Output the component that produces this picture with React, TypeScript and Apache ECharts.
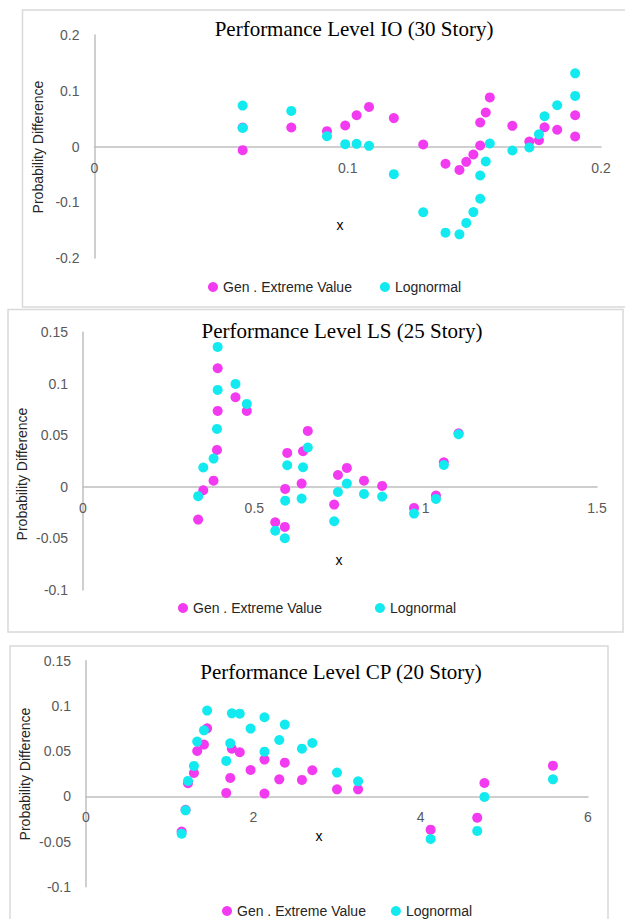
import React, { useEffect, useRef } from "react";
import * as echarts from "echarts";

const GEV_NAME = "Gen . Extreme Value";
const LN_NAME = "Lognormal";

const titleIO = "Performance Level IO (30 Story)";
const titleLS = "Performance Level LS (25 Story)";
const titleCP = "Performance Level CP (20 Story)";
const yAxisTitle = "Probability Difference";
const xAxisTitle = "x";

// Panel 1: IO (30 story)
const xIO = [0.0585, 0.0585, 0.0777, 0.0918, 0.099, 0.1035, 0.1084, 0.1182, 0.1298, 0.1386, 0.1441, 0.1468, 0.1496, 0.1523, 0.1523, 0.1545, 0.1561, 0.165, 0.1717, 0.1755, 0.1777, 0.1827, 0.1898, 0.1898];
const gevIO = [-0.0066, 0.034, 0.034, 0.0275, 0.0376, 0.056, 0.071, 0.051, 0.0036, -0.031, -0.042, -0.0275, -0.0143, 0.0018, 0.043, 0.061, 0.088, 0.037, 0.009, 0.0113, 0.0346, 0.03, 0.018, 0.056];
const lnIO = [0.0334, 0.0734, 0.0639, 0.0185, 0.0042, 0.0048, 0.0012, -0.0496, -0.118, -0.1546, -0.1576, -0.137, -0.1176, -0.0937, -0.052, -0.0269, 0.0054, -0.0072, -0.0018, 0.022, 0.0543, 0.074, 0.0907, 0.1313];
const xTicksIO = [0, 0.1, 0.2];
const yTicksIO = [-0.2, -0.1, 0, 0.1, 0.2];

// Panel 2: LS (25 story)
const xLS = [0.336, 0.351, 0.381, 0.391, 0.393, 0.393, 0.445, 0.478, 0.561, 0.589, 0.59, 0.596, 0.638, 0.642, 0.656, 0.733, 0.744, 0.77, 0.82, 0.873, 0.966, 1.03, 1.053, 1.096];
const gevLS = [-0.0317, -0.0032, 0.0061, 0.0359, 0.0737, 0.1151, 0.087, 0.0737, -0.0343, -0.0388, -0.0019, 0.033, 0.0032, 0.0346, 0.0543, -0.0171, 0.0116, 0.0184, 0.0061, 0.001, -0.0204, -0.0084, 0.0239, 0.052];
const lnLS = [-0.009, 0.0188, 0.0275, 0.0563, 0.0941, 0.1358, 0.0999, 0.0805, -0.0424, -0.0498, -0.0133, 0.021, -0.0113, 0.0191, 0.0382, -0.0333, -0.0049, 0.0032, -0.0068, -0.0094, -0.0259, -0.0116, 0.0213, 0.0511];
const xTicksLS = [0, 0.5, 1, 1.5];
const yTicksLS = [-0.1, -0.05, 0, 0.05, 0.1, 0.15];

// Panel 3: CP (20 story)
const xCP = [1.143, 1.19, 1.219, 1.29, 1.329, 1.41, 1.448, 1.676, 1.724, 1.743, 1.838, 1.967, 2.133, 2.133, 2.31, 2.376, 2.581, 2.705, 3.0, 3.252, 4.119, 4.676, 4.762, 5.581];
const gevCP = [-0.039, -0.015, 0.0144, 0.0258, 0.0501, 0.0572, 0.0752, 0.0037, 0.0203, 0.0527, 0.0487, 0.0291, 0.003, 0.0406, 0.0188, 0.0372, 0.0181, 0.0288, 0.0077, 0.0077, -0.0369, -0.0236, 0.0147, 0.0339];
const lnCP = [-0.0413, -0.0155, 0.017, 0.0336, 0.0605, 0.073, 0.0948, 0.0391, 0.0586, 0.0918, 0.0914, 0.0749, 0.0494, 0.0874, 0.0623, 0.0793, 0.0527, 0.059, 0.0262, 0.0166, -0.0472, -0.0383, -0.0007, 0.0188];
const xTicksCP = [0, 2, 4, 6];
const yTicksCP = [-0.1, -0.05, 0, 0.05, 0.1, 0.15];

const GEV_COLOR = "#f23af0";
const LN_COLOR = "#12eaf0";
const AXIS_COLOR = "#bfbfbf";
const TICK_COLOR = "#595959";
const SANS = "Liberation Sans";
const SERIF = "Liberation Serif";

const fmt = (v: number) => String(Number(v.toFixed(3)));

const panels = [
  {
    title: titleIO, x: xIO, gev: gevIO, ln: lnIO, xTicks: xTicksIO, yTicks: yTicksIO, xStep: 0.1, yStep: 0.1,
    grid: { left: 94.5, top: 35, width: 506.5, height: 223 },
    frame: { x: 22.5, y: 10, width: 620, height: 297 },
    titlePos: [354, 29], yNamePos: [38, 147], xNamePos: [340, 225],
    legend: { left: 208, top: 280, itemGap: 28 },
  },
  {
    title: titleLS, x: xLS, gev: gevLS, ln: lnLS, xTicks: xTicksLS, yTicks: yTicksLS, xStep: 0.5, yStep: 0.05,
    grid: { left: 83, top: 332.3, width: 514, height: 257.7 },
    frame: { x: 8, y: 309.5, width: 615, height: 322.5 },
    titlePos: [342, 331], yNamePos: [22, 474], xNamePos: [339, 560],
    legend: { left: 178, top: 601, itemGap: 53 },
  },
  {
    title: titleCP, x: xCP, gev: gevCP, ln: lnCP, xTicks: xTicksCP, yTicks: yTicksCP, xStep: 2, yStep: 0.05,
    grid: { left: 86, top: 660.7, width: 502, height: 226 },
    frame: { x: 10, y: 646, width: 598, height: 300 },
    titlePos: [341, 672], yNamePos: [25, 774], xNamePos: [319, 836],
    legend: { left: 222, top: 904, itemGap: 25 },
  },
];

export default function App() {
  const ref = useRef<HTMLDivElement>(null);

  useEffect(() => {
    if (!ref.current) return;
    const chart = echarts.init(ref.current, undefined, { renderer: "svg" });

    const graphic: any[] = [];
    panels.forEach((p) => {
      graphic.push({
        type: "rect",
        shape: { x: p.frame.x, y: p.frame.y, width: p.frame.width, height: p.frame.height },
        style: { fill: "none", stroke: "#d9d9d9", lineWidth: 1.5 },
        z: -1,
      });
      graphic.push({
        type: "text",
        x: p.titlePos[0],
        y: p.titlePos[1],
        style: { text: p.title, fill: "#000", fontSize: 21, fontFamily: SERIF, align: "center", verticalAlign: "middle" },
      });
      graphic.push({
        type: "text",
        x: p.yNamePos[0],
        y: p.yNamePos[1],
        rotation: Math.PI / 2,
        style: { text: yAxisTitle, fill: "#262626", fontSize: 14, fontFamily: SANS, align: "center", verticalAlign: "middle" },
      });
      graphic.push({
        type: "text",
        x: p.xNamePos[0],
        y: p.xNamePos[1],
        style: { text: xAxisTitle, fill: "#000", fontSize: 14, fontFamily: SANS, align: "center", verticalAlign: "middle" },
      });
    });

    const option: any = {
      animation: false,
      backgroundColor: "#ffffff",
      grid: panels.map((p) => ({ ...p.grid, containLabel: false })),
      xAxis: panels.map((p, i) => {
        const yMin = p.yTicks[0];
        const yMax = p.yTicks[p.yTicks.length - 1];
        // move the x axis (line + labels) up from the bottom edge to y = 0
        const zeroOffset = -p.grid.height * (0 - yMin) / (yMax - yMin);
        return {
          type: "value",
          gridIndex: i,
          position: "bottom",
          offset: zeroOffset,
          min: p.xTicks[0],
          max: p.xTicks[p.xTicks.length - 1],
          interval: p.xStep,
          axisLine: { show: true, onZero: false, lineStyle: { color: AXIS_COLOR, width: 1.5 } },
          axisTick: { show: false },
          splitLine: { show: false },
          axisLabel: {
            margin: 14, color: TICK_COLOR, fontSize: 14, fontFamily: SANS,
            showMinLabel: true, showMaxLabel: true, formatter: fmt,
          },
        };
      }),
      yAxis: panels.map((p, i) => ({
        type: "value",
        gridIndex: i,
        min: p.yTicks[0],
        max: p.yTicks[p.yTicks.length - 1],
        interval: p.yStep,
        axisLine: { show: true, onZero: false, lineStyle: { color: AXIS_COLOR, width: 1.5 } },
        axisTick: { show: false },
        splitLine: { show: false },
        axisLabel: {
          margin: 15, color: TICK_COLOR, fontSize: 14, fontFamily: SANS,
          showMinLabel: true, showMaxLabel: true, formatter: fmt,
        },
      })),
      legend: panels.map((p) => ({
        left: p.legend.left,
        top: p.legend.top,
        itemGap: p.legend.itemGap,
        padding: 0,
        orient: "horizontal",
        icon: "circle",
        itemWidth: 10,
        itemHeight: 10,
        selectedMode: false,
        data: [GEV_NAME, LN_NAME],
        textStyle: { fontSize: 14, color: "#262626", fontFamily: SANS },
      })),
      series: panels.flatMap((p, i) => [
        {
          name: GEV_NAME,
          type: "scatter",
          xAxisIndex: i,
          yAxisIndex: i,
          symbol: "circle",
          symbolSize: 10,
          itemStyle: { color: GEV_COLOR, opacity: 1 },
          data: p.x.map((x, j) => [x, p.gev[j]]),
        },
        {
          name: LN_NAME,
          type: "scatter",
          xAxisIndex: i,
          yAxisIndex: i,
          symbol: "circle",
          symbolSize: 10,
          itemStyle: { color: LN_COLOR, opacity: 1 },
          data: p.x.map((x, j) => [x, p.ln[j]]),
        },
      ]),
      graphic,
    };

    chart.setOption(option);
    return () => chart.dispose();
  }, []);

  return (
    <div
      ref={ref}
      style={{ position: "fixed", left: 0, top: 0, width: 625, height: 919, background: "#fff" }}
    />
  );
}
